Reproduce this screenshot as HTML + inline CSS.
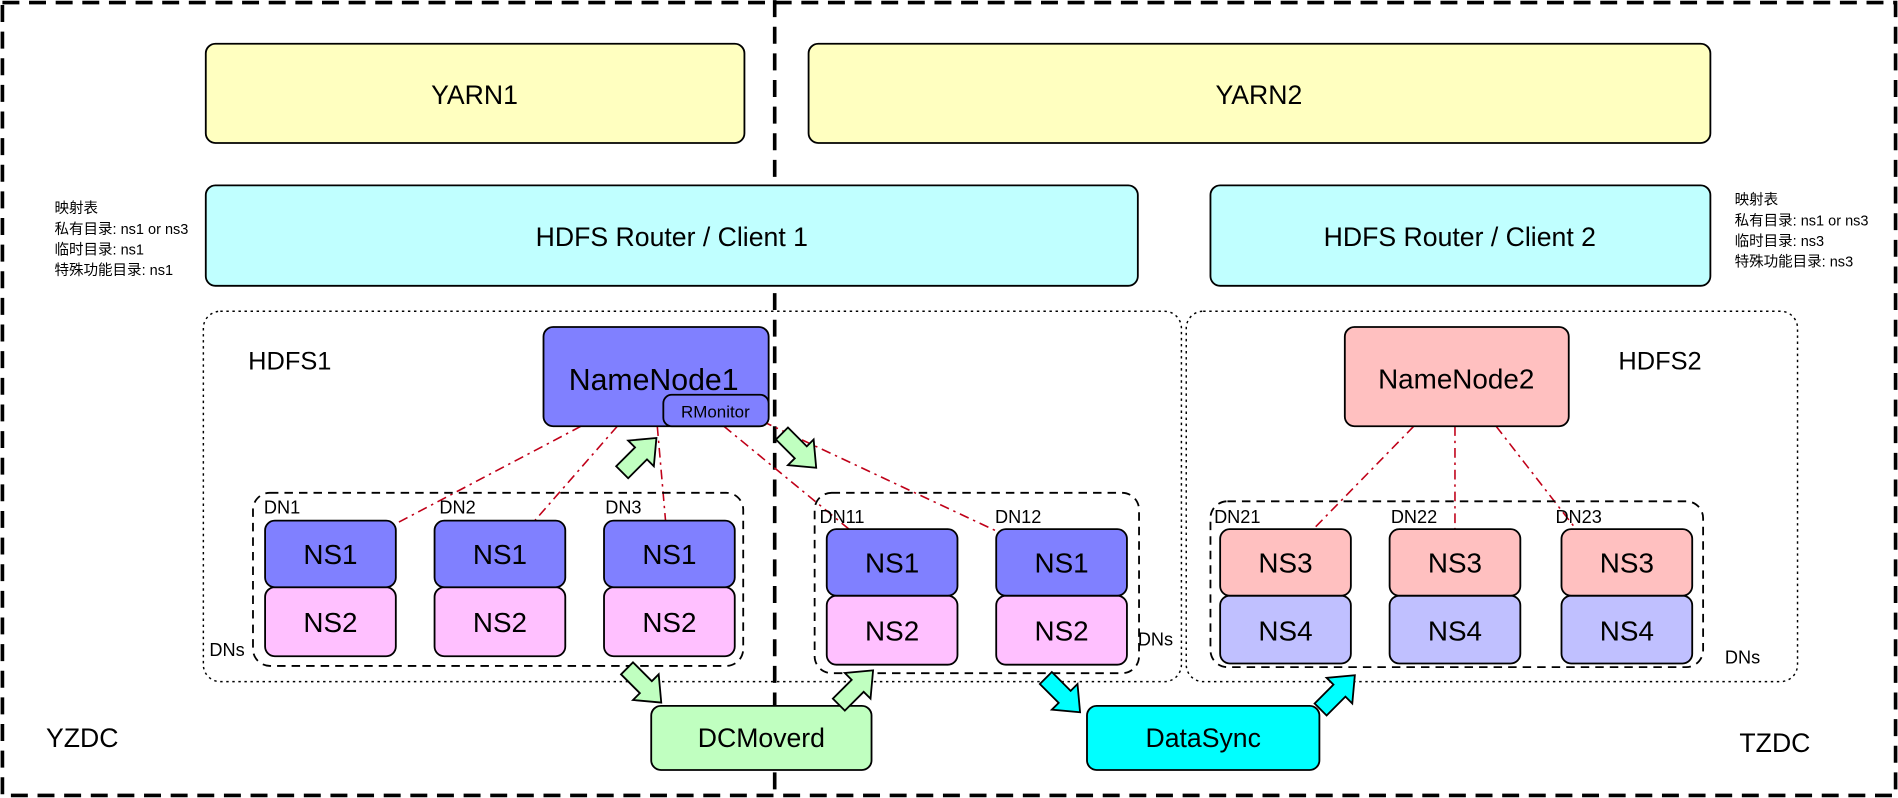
<!DOCTYPE html>
<html><head><meta charset="utf-8"><style>
html,body{margin:0;padding:0;background:#fff;}
svg{display:block;}
text{font-family:"Liberation Sans","Noto Sans CJK SC",sans-serif;fill:#000;}
</style></head><body>
<svg width="1898" height="798" viewBox="0 0 1568 659" xmlns="http://www.w3.org/2000/svg">
<defs>
<polygon id="ba" points="0,-7 22,-7 22,-15 40,0 22,15 22,7 0,7" fill="#c0ffc0" stroke="#000" stroke-width="1.5" stroke-linejoin="miter"/>
<polygon id="bc" points="0,-7 22,-7 22,-15 40,0 22,15 22,7 0,7" fill="#00ffff" stroke="#000" stroke-width="1.5"/>
</defs>
<rect x="2" y="2" width="1564" height="655" fill="none" stroke="#000" stroke-width="3" stroke-dasharray="14 8"/>
<line x1="640" y1="0" x2="640" y2="659" stroke="#000" stroke-width="3" stroke-dasharray="14 8"/>

<rect x="170" y="36" width="445" height="82" rx="8" fill="#ffffc0" stroke="#000" stroke-width="1.5"/>
<text x="392" y="86" font-size="22" text-anchor="middle">YARN1</text>
<rect x="668" y="36" width="745" height="82" rx="8" fill="#ffffc0" stroke="#000" stroke-width="1.5"/>
<text x="1040" y="86" font-size="22" text-anchor="middle">YARN2</text>

<rect x="170" y="153" width="770" height="83" rx="8" fill="#c0ffff" stroke="#000" stroke-width="1.5"/>
<text x="555" y="203" font-size="22" text-anchor="middle">HDFS Router / Client 1</text>
<rect x="1000" y="153" width="413" height="83" rx="8" fill="#c0ffff" stroke="#000" stroke-width="1.5"/>
<text x="1206" y="203" font-size="22" text-anchor="middle">HDFS Router / Client 2</text>

<g font-size="12">
<text x="45" y="176">映射表</text>
<text x="45" y="193">私有目录: ns1 or ns3</text>
<text x="45" y="210">临时目录:    ns1</text>
<text x="45" y="227">特殊功能目录: ns1</text>
<text x="1433" y="169">映射表</text>
<text x="1433" y="186">私有目录: ns1 or ns3</text>
<text x="1433" y="203">临时目录:    ns3</text>
<text x="1433" y="220">特殊功能目录: ns3</text>
</g>

<rect x="168" y="257" width="808" height="306" rx="14" fill="none" stroke="#000" stroke-width="1.2" stroke-dasharray="2 3"/>
<rect x="980" y="257" width="505" height="306" rx="14" fill="none" stroke="#000" stroke-width="1.2" stroke-dasharray="2 3"/>
<text x="205" y="305" font-size="21">HDFS1</text>
<text x="1337" y="305" font-size="21">HDFS2</text>

<g stroke="#c00018" stroke-width="1.3" stroke-dasharray="8 4 2 4" fill="none">
<line x1="480" y1="352" x2="328" y2="432"/>
<line x1="510" y1="352" x2="440" y2="432"/>
<line x1="543" y1="352" x2="550" y2="432"/>
<line x1="598" y1="352" x2="705" y2="440"/>
<line x1="630" y1="348" x2="822" y2="438"/>
<line x1="1168" y1="352" x2="1085" y2="437"/>
<line x1="1202" y1="352" x2="1202" y2="437"/>
<line x1="1236" y1="352" x2="1302" y2="437"/>
</g>

<rect x="449" y="270" width="186" height="82" rx="8" fill="#8080ff" stroke="#000" stroke-width="1.5"/>
<text x="540" y="322" font-size="25" text-anchor="middle">NameNode1</text>
<rect x="548" y="326" width="87" height="26" rx="7" fill="#8080ff" stroke="#000" stroke-width="1.5"/>
<text x="591" y="345" font-size="14" text-anchor="middle">RMonitor</text>

<rect x="1111" y="270" width="185" height="82" rx="8" fill="#ffc0c0" stroke="#000" stroke-width="1.5"/>
<text x="1203" y="321" font-size="23" text-anchor="middle">NameNode2</text>

<rect x="209" y="407" width="405" height="143" rx="14" fill="none" stroke="#000" stroke-width="1.5" stroke-dasharray="7 5"/>
<rect x="673" y="407" width="268" height="149" rx="14" fill="none" stroke="#000" stroke-width="1.5" stroke-dasharray="7 5"/>
<rect x="1000" y="414" width="407" height="137" rx="14" fill="none" stroke="#000" stroke-width="1.5" stroke-dasharray="7 5"/>

<g font-size="15">
<text x="218" y="424">DN1</text><text x="363" y="424">DN2</text><text x="500" y="424">DN3</text>
<text x="677" y="432">DN11</text><text x="822" y="432">DN12</text>
<text x="1003" y="432">DN21</text><text x="1149" y="432">DN22</text><text x="1285" y="432">DN23</text>
<text x="173" y="542">DNs</text><text x="940" y="533">DNs</text><text x="1425" y="548">DNs</text>
</g>

<g stroke="#000" stroke-width="1.5">
<rect x="219" y="485" width="108" height="57" rx="8" fill="#ffc0ff"/>
<rect x="219" y="430" width="108" height="55" rx="8" fill="#8080ff"/>
<rect x="359" y="485" width="108" height="57" rx="8" fill="#ffc0ff"/>
<rect x="359" y="430" width="108" height="55" rx="8" fill="#8080ff"/>
<rect x="499" y="485" width="108" height="57" rx="8" fill="#ffc0ff"/>
<rect x="499" y="430" width="108" height="55" rx="8" fill="#8080ff"/>
<rect x="683" y="492" width="108" height="57" rx="8" fill="#ffc0ff"/>
<rect x="683" y="437" width="108" height="55" rx="8" fill="#8080ff"/>
<rect x="823" y="492" width="108" height="57" rx="8" fill="#ffc0ff"/>
<rect x="823" y="437" width="108" height="55" rx="8" fill="#8080ff"/>
<rect x="1008" y="492" width="108" height="56" rx="8" fill="#c0c0ff"/>
<rect x="1008" y="437" width="108" height="55" rx="8" fill="#ffc0c0"/>
<rect x="1148" y="492" width="108" height="56" rx="8" fill="#c0c0ff"/>
<rect x="1148" y="437" width="108" height="55" rx="8" fill="#ffc0c0"/>
<rect x="1290" y="492" width="108" height="56" rx="8" fill="#c0c0ff"/>
<rect x="1290" y="437" width="108" height="55" rx="8" fill="#ffc0c0"/>
</g>
<g font-size="23" text-anchor="middle">
<text x="273" y="466">NS1</text><text x="273" y="522">NS2</text>
<text x="413" y="466">NS1</text><text x="413" y="522">NS2</text>
<text x="553" y="466">NS1</text><text x="553" y="522">NS2</text>
<text x="737" y="473">NS1</text><text x="737" y="529">NS2</text>
<text x="877" y="473">NS1</text><text x="877" y="529">NS2</text>
<text x="1062" y="473">NS3</text><text x="1062" y="529">NS4</text>
<text x="1202" y="473">NS3</text><text x="1202" y="529">NS4</text>
<text x="1344" y="473">NS3</text><text x="1344" y="529">NS4</text>
</g>

<rect x="538" y="583" width="182" height="53" rx="8" fill="#c0ffc0" stroke="#000" stroke-width="1.5"/>
<text x="629" y="617" font-size="22" text-anchor="middle">DCMoverd</text>
<rect x="898" y="583" width="192" height="53" rx="8" fill="#00ffff" stroke="#000" stroke-width="1.5"/>
<text x="994" y="617" font-size="22" text-anchor="middle">DataSync</text>

<use href="#ba" transform="translate(514,390) rotate(-45)"/>
<use href="#ba" transform="translate(646,358) rotate(45)"/>
<use href="#ba" transform="translate(518,552) rotate(45)"/>
<use href="#ba" transform="translate(693,582) rotate(-45)"/>
<use href="#bc" transform="translate(864,560) rotate(45)"/>
<use href="#bc" transform="translate(1091,586) rotate(-45)"/>

<text x="38" y="617" font-size="22">YZDC</text>
<text x="1437" y="621" font-size="22">TZDC</text>
</svg>
</body></html>
